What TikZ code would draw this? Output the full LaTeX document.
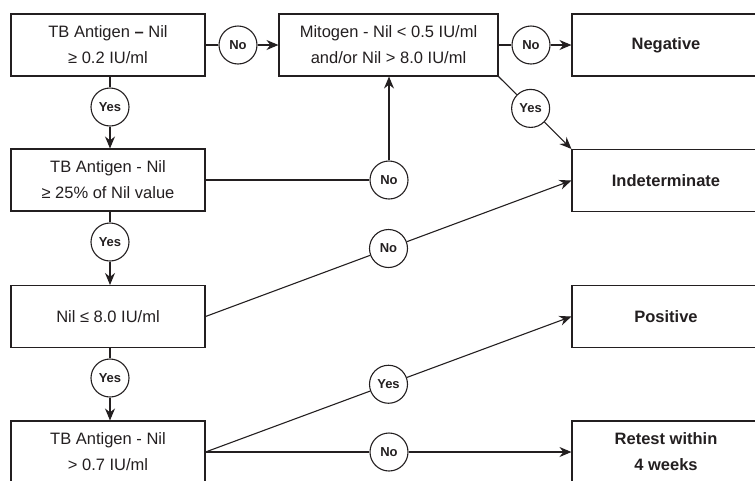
\documentclass[tikz,border=0pt]{standalone}
\usepackage{fontspec}
\setmainfont{Liberation Sans}
\usetikzlibrary{arrows.meta,calc}
\definecolor{ink}{HTML}{231F20}
\begin{document}
\begin{tikzpicture}[x=1pt,y=-1pt,
  box/.style={draw=ink, text=ink, line width=1.1pt, minimum width=194pt, minimum height=62pt, align=center, inner sep=0pt, font=\fontsize{16.5}{26}\selectfont},
  res/.style={box, minimum width=188pt, font=\fontsize{16.5}{26}\selectfont\bfseries},
  dec/.style={draw=ink, text=ink, circle, line width=1.1pt, minimum size=38pt, inner sep=0pt, font=\fontsize{13}{14}\selectfont\bfseries},
  ln/.style={draw=ink, line width=1.1pt},
  arr/.style={ln, -{Stealth[length=12pt,width=10pt,inset=4pt]}}]
\clip (0,0) rectangle (755,480);
% boxes
\node[box] (b1) at (108,45) {TB Antigen {\bfseries –} Nil\\≥ 0.2 IU/ml};
\node[box, minimum width=219pt] (b2) at (388.5,45) {Mitogen - Nil < 0.5 IU/ml\\and/or Nil > 8.0 IU/ml};
\node[box] (b3) at (108,180) {TB Antigen - Nil\\≥ 25\% of Nil value};
\node[box] (b4) at (108,316.5) {Nil ≤ 8.0 IU/ml};
\node[box] (b5) at (108,452) {TB Antigen - Nil\\> 0.7 IU/ml};
\node[res] (neg) at (666,45) {Negative};
\node[res] (ind) at (666,180.5) {Indeterminate};
\node[res] (pos) at (666,316.5) {Positive};
\node[res] (ret) at (666,452) {Retest within\\4 weeks};
% decision circles
\node[dec] (n1) at (238,45) {No};
\node[dec] (y1) at (110,107) {Yes};
\node[dec] (n2) at (389,180) {No};
\node[dec] (n3) at (531,45) {No};
\node[dec] (y2) at ($(b2.south east)!0.44!(ind.north west)$) {Yes};
\node[dec] (y3) at (110,242) {Yes};
\node[dec] (n4) at ($(b4.east)!0.5!(ind.west)$) {No};
\node[dec] (y4) at (110,378) {Yes};
\node[dec] (y5) at ($(b5.east)!0.5!(pos.west)$) {Yes};
\node[dec] (n5) at (389,452) {No};
% connectors
\draw[ln] (b1.east) -- (n1);
\draw[arr] (n1) -- (b2.west);
\draw[ln] (b2.east) -- (n3);
\draw[arr] (n3) -- (neg.west);
\draw[ln] (b2.south east) -- (y2);
\draw[arr] (y2) -- (ind.north west);
\draw[ln] (b1.south -| y1) -- (y1);
\draw[arr] (y1) -- (b3.north -| y1);
\draw[ln] (b3.east) -- (n2);
\draw[arr] (n2) -- (b2.south -| n2);
\draw[ln] (b3.south -| y3) -- (y3);
\draw[arr] (y3) -- (b4.north -| y3);
\draw[ln] (b4.east) -- (n4);
\draw[arr] (n4) -- (ind.west);
\draw[ln] (b4.south -| y4) -- (y4);
\draw[arr] (y4) -- (b5.north -| y4);
\draw[ln] (b5.east) -- (y5);
\draw[arr] (y5) -- (pos.west);
\draw[ln] (b5.east) -- (n5);
\draw[arr] (n5) -- (ret.west);
\end{tikzpicture}
\end{document}
